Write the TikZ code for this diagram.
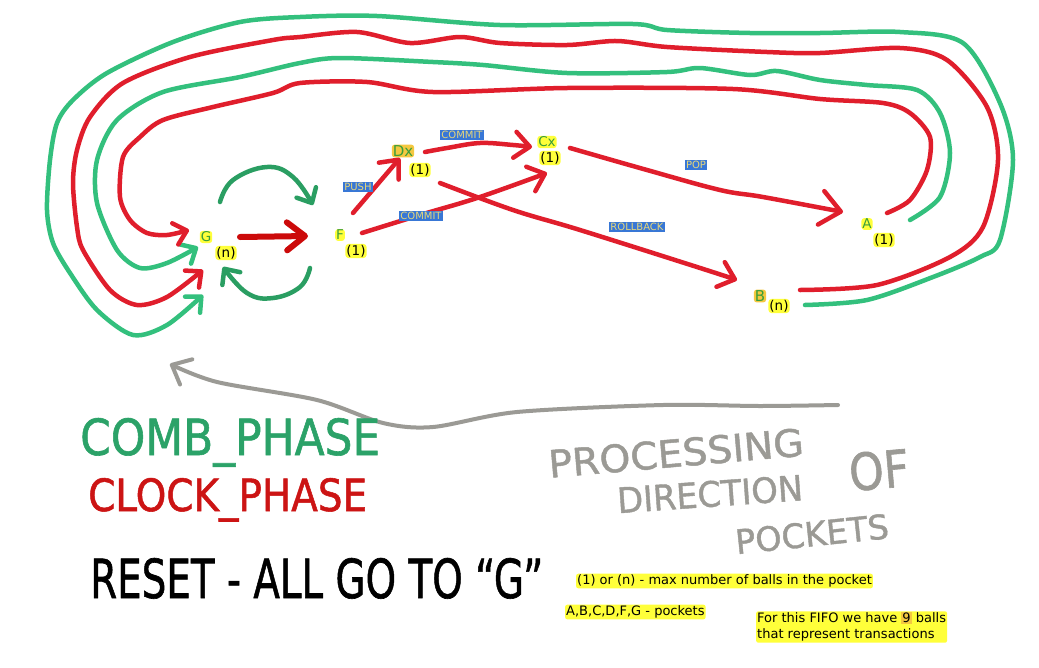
\documentclass[tikz,border=0pt]{standalone}
\usepackage{fontspec}
\setmainfont{DejaVu Sans}
\newfontfamily\handfont[FakeBold=1.2]{DejaVu Sans}
\usetikzlibrary{arrows.meta,calc}
\definecolor{lgreen}{HTML}{33C07D}
\definecolor{lred}{HTML}{E01E2C}
\definecolor{dgreen}{HTML}{2A9E62}
\definecolor{dred}{HTML}{CC0A0A}
\definecolor{pgray}{HTML}{9B9A95}
\definecolor{hlyel}{HTML}{FFFF3A}
\definecolor{hlorange}{HTML}{F4C840}
\definecolor{pkgreen}{HTML}{3A9E3A}
\definecolor{opblue}{HTML}{3877D6}
\definecolor{optext}{HTML}{E6D67A}
\definecolor{combgreen}{HTML}{2BA268}
\definecolor{clockred}{HTML}{CC1414}
\begin{document}
\begin{tikzpicture}[x=1pt,y=-1pt,
  pk/.style={fill=hlyel, text=pkgreen, rounded corners=3pt, inner sep=1pt, font=\fontsize{13.5}{14}\selectfont},
  pkd/.style={pk, fill=hlorange, font=\fontsize{15}{16}\selectfont},
  cnt/.style={fill=hlyel, text=black, rounded corners=3pt, inner sep=1pt, font=\fontsize{13.5}{14}\selectfont},
  op/.style={fill=opblue, text=optext, inner sep=1.2pt, font=\fontsize{10}{11}\selectfont},
  leg/.style={fill=hlyel, text=black, inner sep=1pt, rounded corners=2pt, font=\fontsize{13}{16}\selectfont, anchor=west},
  hand/.style={inner sep=0pt, font=\handfont\fontsize{40}{40}\selectfont},
  ring/.style={line width=4.5pt, line cap=round, line join=round},
  flow/.style={line width=4.5pt, line cap=round, line join=round},
  tipS/.style={-{Straight Barb[length=12pt,width=22pt,round]}},
  tipM/.style={-{Straight Barb[length=15pt,width=26pt,round]}},
  tipL/.style={-{Straight Barb[length=20pt,width=34pt,round]}},
]
\fill[white] (0,0) rectangle (1039,667);
\useasboundingbox (0,0) rectangle (1039,667);

% pockets
\node[pk]  (G)  at (206,237) {G};
\node[cnt] (Gn) at (226,253) {(n)};
\node[pk]  (F)  at (340,235) {F};
\node[cnt] (Fn) at (356,251) {(1)};
\node[pkd] (D)  at (403,151) {Dx};
\node[cnt] (Dn) at (420,170) {(1)};
\node[pk]  (C)  at (547,142) {Cx};
\node[cnt] (Cn) at (550,158) {(1)};
\node[pk]  (A)  at (867,224) {A};
\node[cnt] (An) at (884,240) {(1)};
\node[pkd] (B)  at (760,296) {B};
\node[cnt] (Bn) at (779,306) {(n)};

% clock-phase transitions
\draw[flow, dred, line width=6pt, -{Straight Barb[length=18pt,width=28pt,round]}]
  ($(G)+(34,0)$) -- ($(F)+(-32,1)$);
\draw[flow, lred, tipM] ($(F)+(13,-22)$) -- ($(D)+(-3,7)$);
\draw[flow, lred, tipM] plot[smooth, tension=0.6] coordinates
  {($(D)+(22,1)$) ($(D)+(44,-3)$) ($(D)+(77,-8)$) ($(C)+(-34,3)$) ($(C)+(-15,5)$)};
\draw[flow, lred, tipM] plot[smooth, tension=0.6] coordinates
  {($(F)+(22,-2)$) ($(F)+(80,-20)$) ($(F)+(137,-37)$) ($(Cn)+(-3,15)$)};
\draw[flow, lred, tipM] plot[smooth, tension=0.6] coordinates
  {($(Dn)+(20,13)$) ($(Dn)+(93,40)$) ($(Dn)+(160,60)$) ($(Dn)+(277,97)$) ($(B)+(-23,-16)$)};
\draw[flow, lred, tipL] plot[smooth, tension=0.6] coordinates
  {($(C)+(23,6)$) ($(C)+(100,28)$) ($(C)+(173,48)$) ($(A)+(-104,-27)$) ($(A)+(-24,-12)$)};

% comb-phase arcs
\draw[flow, dgreen, tipS] plot[smooth, tension=0.7] coordinates
  {($(G)+(14,-35)$) ($(G)+(27,-57)$) ($(G)+(61,-70)$) ($(G)+(87,-60)$) ($(F)+(-27,-30)$)};
\draw[flow, dgreen, tipS] plot[smooth, tension=0.7] coordinates
  {($(F)+(-30,33)$) ($(F)+(-40,52)$) ($(F)+(-67,63)$) ($(F)+(-93,58)$) ($(Gn)+(-3,14)$)};

% return loops
\draw[ring, lgreen, tipS] plot[smooth, tension=0.5] coordinates
  {($(Bn)+(26,-1)$) (867,300) (933,277) (980,257) (1000,240) (1013,160) (1000,103)
   (963,43) (900,32) (820,33) (750,33) (667,30) (633,24) (500,25) (377,16) (300,17)
   (240,22) (173,42) (107,73) (73,100) (57,123) (50,160) (47,210) (53,243) (70,273)
   (97,310) (133,335) (167,325) ($(G)+(-3,58)$)};
\draw[ring, lred, tipS] plot[smooth, tension=0.5] coordinates
  {($(B)+(40,-6)$) (877,285) (950,257) (983,227) (998,160) (987,107) (947,60) (900,48)
   (820,53) (767,52) (667,47) (617,41) (567,45) (500,43) (460,37) (410,43) (357,32)
   (300,37) (273,40) (190,57) (123,83) (90,117) (77,150) (73,183) (77,227) (83,250)
   (110,290) (137,305) (167,297) ($(G)+(-3,33)$)};
\draw[ring, lgreen, tipS] plot[smooth, tension=0.5] coordinates
  {($(A)+(43,-4)$) (940,197) (950,153) (940,113) (917,90) (867,85) (820,80) (777,71)
   (750,75) (700,68) (667,72) (567,73) (483,65) (433,62) (340,58) (300,63) (240,77)
   (163,92) (117,120) (97,160) (97,203) (117,250) (140,268) (167,263) ($(G)+(-8,10)$)};
\draw[ring, lred, tipS] plot[smooth, tension=0.5] coordinates
  {($(A)+(20,-11)$) (910,200) (927,170) (930,137) (910,113) (883,103) (820,99) (733,89)
   (567,88) (433,92) (367,82) (300,83) (273,93) (213,107) (163,120) (140,137) (123,157)
   (120,197) (130,220) (147,233) (167,235) ($(G)+(-17,-7)$)};

% operation labels (on top of the connectors)
\node[op] (push)    at (358,187) {PUSH};
\node[op] (commit1) at (462,135) {COMMIT};
\node[op] (commit2) at (421,216) {COMMIT};
\node[op] (pop)     at (696,165) {POP};
\node[op] (rollb)   at (637,227) {ROLLBACK};

% processing direction arrow
\coordinate (pg1) at (838,405);
\coordinate (pg2) at (170,364);
\draw[ring, pgray, line width=4pt, -{Straight Barb[length=16pt,width=28pt,round]}]
  plot[smooth, tension=0.5] coordinates
  {(pg1) (760,406) (663,405) (517,412) (433,427) (383,423) (317,400) (217,382) (pg2)};

% hand-written captions
\node[hand, text=combgreen, anchor=base west] (comb) at (80,455)
  {\resizebox{300pt}{37pt}{COMB\_PHASE}};
\node[hand, text=clockred, anchor=base west] (clock) at (88,511)
  {\resizebox{279pt}{33pt}{CLOCK\_PHASE}};
\node[hand, text=black, anchor=base west] (reset) at (90,598)
  {\resizebox{453pt}{40pt}{RESET - ALL GO TO “G”}};
\node[hand, text=pgray, rotate=5] (proc) at (676,453)
  {\resizebox{256pt}{28pt}{PROCESSING}};
\node[hand, text=pgray, rotate=4] (dir) at (710,494)
  {\resizebox{186pt}{26pt}{DIRECTION}};
\node[hand, text=pgray, rotate=5] (of) at (879,470)
  {\resizebox{60pt}{38pt}{OF}};
\node[hand, text=pgray, rotate=6] (pockets) at (812,534)
  {\resizebox{154pt}{25pt}{POCKETS}};

% legend
\node[leg] (l1) at (576,581) {(1) or (n) - max number of balls in the pocket};
\node[leg] (l2) at (565,612) {A,B,C,D,F,G - pockets};
\node[leg, align=left] (l3) at (756,627)
  {For this FIFO we have {\setlength{\fboxsep}{1pt}\colorbox{hlorange}{9}} balls\\that represent transactions};
\end{tikzpicture}
\end{document}
